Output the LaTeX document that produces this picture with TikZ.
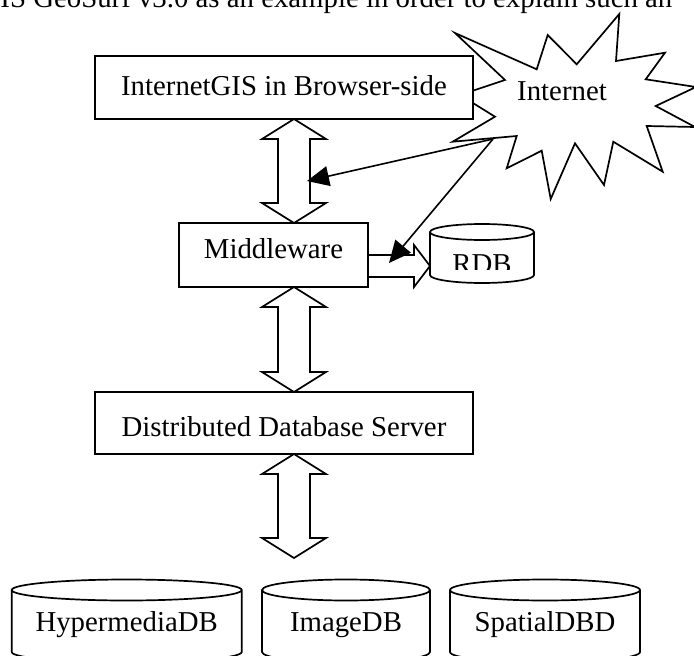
\documentclass[tikz,border=0pt]{standalone}
\usepackage{fontspec}
\setmainfont{Liberation Serif}
\usetikzlibrary{arrows.meta,calc}
\newcommand\cylout[3]{%
  \draw[cylline] (#1.north west) -- (#1.south west)
    arc[start angle=180,end angle=360,x radius=#2pt,y radius=#3pt] -- (#1.north east)
    (#1.north) ellipse[x radius=#2pt,y radius=#3pt];}
\newcommand\dblarrow[2]{%
  \draw[blockarrow] let \p1=#1, \p2=#2 in
    (\x1,\y1) -- (\x1+32pt,\y1-20pt) -- (\x1+16pt,\y1-20pt) -- (\x1+16pt,\y2+20pt)
    -- (\x1+32pt,\y2+20pt) -- (\x2,\y2) -- (\x1-32pt,\y2+20pt) -- (\x1-16pt,\y2+20pt)
    -- (\x1-16pt,\y1-20pt) -- (\x1-32pt,\y1-20pt) -- cycle;}
\begin{document}
\begin{tikzpicture}[x=1pt,y=-1pt,
  every node/.style={font=\fontsize{28.8pt}{34pt}\selectfont, inner sep=0pt, outer sep=0pt},
  box/.style={draw, line width=1.8pt, fill=white},
  cylbody/.style={draw=none},
  cylline/.style={line width=1.7pt},
  blockarrow/.style={line width=1.7pt, line join=miter},
  starline/.style={line width=1.7pt, fill=white},
  inetarrow/.style={line width=1.6pt, -{Triangle[length=22pt,width=20pt]}}]
\useasboundingbox (0,0) rectangle (694,656);
\clip (0,0) rectangle (694,656);

% cut-off paragraph line at the top
\node[anchor=base west] (para) at (0.5,7) {IS GeoSurf v3.0 as an example in order to explain such an};

% Internet starburst
\draw[starline] (455,33) -- (536.7,69.3) -- (547.7,35) -- (576.7,64.3) -- (619.3,14) -- (616,61)
  -- (665,52.7) -- (645.7,79.3) -- (696,87) -- (655.7,106) -- (695,127) -- (646.7,126)
  -- (662.7,171.7) -- (613.3,141.7) -- (604,185) -- (575,143.3) -- (550.7,199) -- (541.7,150.7)
  -- (506.7,168.3) -- (516.7,136) -- (452.7,141.7) -- (495,116.7) -- (460,95) -- (505,80) -- cycle;
\node[anchor=base] (inettext) at (562,100) {Internet};
\coordinate (inet) at (493,139);

% boxes
\node[box, minimum width=378pt, minimum height=63pt, text height=20pt, text depth=5pt]
  (b1) at (284,87.5) {InternetGIS in Browser-side};
\node[box, minimum width=189pt, minimum height=64pt, text height=20pt, text depth=14pt]
  (mw) at (273.5,255) {Middleware};
\node[box, minimum width=378pt, minimum height=62pt, text height=26pt, text depth=0pt]
  (db) at (284,423) {Distributed Database Server};

% RDB cylinder (text cut at its bottom as in the source)
\begin{scope}
  \clip (420,240) rectangle (540,269.5);
  \node[cylbody, minimum width=104pt, minimum height=43pt, text height=39pt, text depth=0pt]
    (rdb) at (482,253.5) {RDB};
\end{scope}
\cylout{rdb}{52}{8}

% bottom cylinders
\node[cylbody, minimum width=230pt, minimum height=62pt, text height=21.4pt, text depth=0pt]
  (hyp) at (126.7,621) {HypermediaDB};
\node[cylbody, minimum width=168pt, minimum height=62pt, text height=21.4pt, text depth=0pt]
  (img) at (346,621) {ImageDB};
\node[cylbody, minimum width=190pt, minimum height=62pt, text height=21.4pt, text depth=0pt]
  (spa) at (545,621) {SpatialDBD};
\cylout{hyp}{115}{10.5}
\cylout{img}{84}{10.5}
\cylout{spa}{95}{10.5}

% double block arrows
\coordinate (ax) at (294,0);
\coordinate (a3end) at (294,558);
\dblarrow{(ax |- b1.south)}{(ax |- mw.north)}
\dblarrow{(ax |- mw.south)}{(ax |- db.north)}
\dblarrow{(ax |- db.south)}{(a3end)}

% block arrow Middleware -> RDB
\coordinate (rarr) at (0,266);
\draw[blockarrow] let \p1=(mw.east |- rarr), \p2=(rdb.west |- rarr) in
  (\x1,\y1+11pt) -- (\x2-16pt,\y1+11pt) -- (\x2-16pt,\y1+21pt) -- (\x2,\y1)
  -- (\x2-16pt,\y1-21pt) -- (\x2-16pt,\y1-11pt) -- (\x1,\y1-11pt);

% Internet connectors
\coordinate (t1) at (307,181);
\coordinate (t2) at (389,263);
\draw[inetarrow] (inet) -- (t1);
\draw[inetarrow] (inet) -- (t2);
\end{tikzpicture}
\end{document}
